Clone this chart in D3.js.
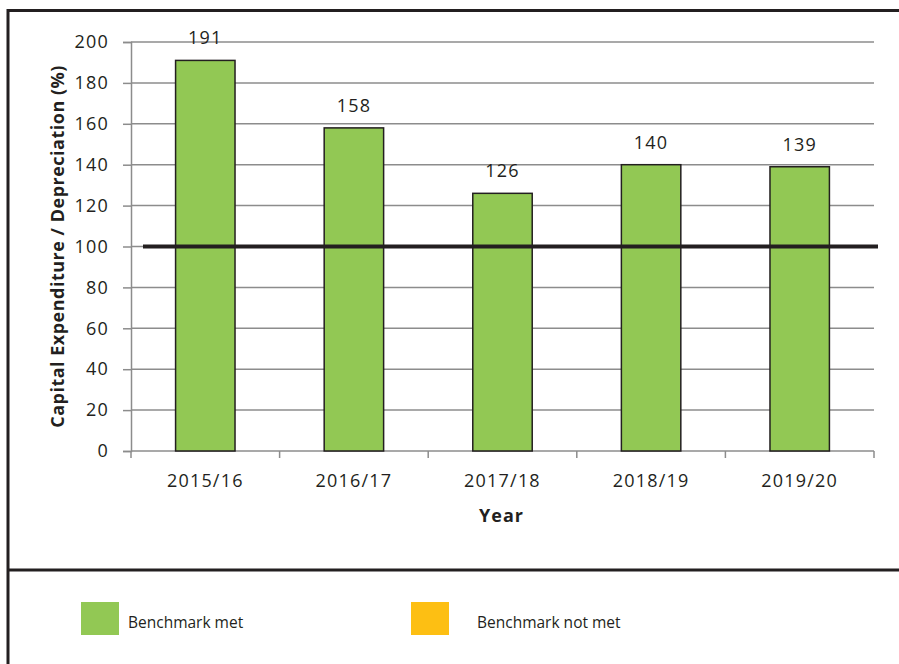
<!DOCTYPE html>
<html>
<head>
<meta charset="utf-8">
<script src="https://cdn.jsdelivr.net/npm/d3@7"></script>
<style>
  html, body { margin: 0; padding: 0; background: #fff; }
  svg { display: block; }
  text { font-family: "Open Sans", "Noto Sans", sans-serif; fill: #231f20; }
</style>
</head>
<body>
<svg id="chart" width="899" height="664"></svg>
<script>
// Capital expenditure as a share of depreciation, by financial year
const years = ["2015/16", "2016/17", "2017/18", "2018/19", "2019/20"];
const ratios = [191, 158, 126, 140, 139];
const benchmark = 100;
const yTicks = [0, 20, 40, 60, 80, 100, 120, 140, 160, 180, 200];
const legendItems = [
  { label: "Benchmark met", color: "#92c854" },
  { label: "Benchmark not met", color: "#fdbf13" }
];

(function draw() {
  const svg = d3.select("#chart");
  const W = 899, H = 664;
  const labelSize = 18, labelSpacing = 1.2;

  // Outer frame and legend divider
  const frame = svg.append("g").attr("stroke", "#231f20").attr("stroke-width", 3);
  frame.append("line").attr("x1", 8).attr("x2", W).attr("y1", 10.5).attr("y2", 10.5);
  frame.append("line").attr("x1", 8).attr("x2", 8).attr("y1", 9).attr("y2", H);
  frame.append("line").attr("x1", 8).attr("x2", W).attr("y1", 570).attr("y2", 570);

  const plotL = 131, plotR = 874, plotT = 42, plotB = 451;

  const x = d3.scaleBand().domain(years).range([plotL, plotR]).paddingInner(0).paddingOuter(0);
  const y = d3.scaleLinear().domain([0, 200]).range([plotB, plotT]);

  // Horizontal gridlines
  svg.append("g")
    .selectAll("line")
    .data(yTicks.filter(d => d > 0))
    .join("line")
    .attr("x1", plotL).attr("x2", plotR)
    .attr("y1", d => y(d)).attr("y2", d => y(d))
    .attr("stroke", "#8c8c8c").attr("stroke-width", 1.5);

  // Y axis
  const yAxis = svg.append("g")
    .attr("transform", `translate(${plotL},0)`)
    .call(d3.axisLeft(y).tickValues(yTicks).tickSize(8).tickPadding(14));
  yAxis.select(".domain").attr("stroke", "#8c8c8c").attr("stroke-width", 1.5);
  yAxis.selectAll(".tick line").attr("stroke", "#8c8c8c").attr("stroke-width", 1.5);
  yAxis.selectAll(".tick text")
    .attr("font-size", labelSize).attr("letter-spacing", labelSpacing)
    .attr("font-family", "'Open Sans', sans-serif").attr("fill", "#231f20");

  // X axis with ticks at category boundaries
  const xAxisG = svg.append("g").attr("transform", `translate(0,${plotB})`);
  xAxisG.append("line")
    .attr("x1", plotL).attr("x2", plotR).attr("y1", 0).attr("y2", 0)
    .attr("stroke", "#8c8c8c").attr("stroke-width", 1.5);
  const boundaries = years.map(d => x(d)).concat([plotR]);
  xAxisG.selectAll("line.bt")
    .data(boundaries)
    .join("line")
    .attr("class", "bt")
    .attr("x1", d => d).attr("x2", d => d).attr("y1", 0).attr("y2", 7)
    .attr("stroke", "#8c8c8c").attr("stroke-width", 1.5);
  xAxisG.selectAll("text")
    .data(years)
    .join("text")
    .attr("x", d => x(d) + x.bandwidth() / 2)
    .attr("y", 36)
    .attr("text-anchor", "middle")
    .attr("font-size", labelSize)
    .attr("letter-spacing", labelSpacing)
    .text(d => d);

  const rows = years.map((d, i) => ({ year: d, value: ratios[i] }));

  // Bars
  const barW = x.bandwidth() * 0.4;
  svg.append("g")
    .selectAll("rect")
    .data(rows)
    .join("rect")
    .attr("x", d => x(d.year) + (x.bandwidth() - barW) / 2)
    .attr("y", d => y(d.value))
    .attr("width", barW)
    .attr("height", d => y(0) - y(d.value))
    .attr("fill", legendItems[0].color)
    .attr("stroke", "#231f20")
    .attr("stroke-width", 1.5);

  // Value labels
  svg.append("g")
    .selectAll("text")
    .data(rows)
    .join("text")
    .attr("x", d => x(d.year) + x.bandwidth() / 2)
    .attr("y", d => y(d.value) - 16)
    .attr("text-anchor", "middle")
    .attr("font-size", labelSize)
    .attr("letter-spacing", labelSpacing)
    .text(d => d.value);

  // Benchmark line
  svg.append("line")
    .attr("x1", plotL + 12).attr("x2", plotR + 4)
    .attr("y1", y(benchmark)).attr("y2", y(benchmark))
    .attr("stroke", "#231f20").attr("stroke-width", 4);

  // Axis titles
  svg.append("text")
    .attr("x", (plotL + plotR) / 2 - 1).attr("y", 522)
    .attr("text-anchor", "middle").attr("font-size", 18).attr("font-weight", "bold")
    .attr("letter-spacing", 1)
    .text("Year");
  svg.append("text")
    .attr("transform", `translate(64,${(plotT + plotB) / 2}) rotate(-90)`)
    .attr("text-anchor", "middle").attr("font-size", 18).attr("font-weight", "bold")
    .attr("letter-spacing", 0.5)
    .text("Capital Expenditure / Depreciation (%)");

  // Legend
  const legendPos = [{ bx: 81, tx: 128 }, { bx: 411, tx: 477 }];
  const lg = svg.append("g");
  legendItems.forEach((item, i) => {
    lg.append("rect")
      .attr("x", legendPos[i].bx).attr("y", 602)
      .attr("width", 38).attr("height", 33)
      .attr("fill", item.color);
    lg.append("text")
      .attr("x", legendPos[i].tx).attr("y", 628)
      .attr("font-size", 15.5)
      .text(item.label);
  });
})();
</script>
</body>
</html>
